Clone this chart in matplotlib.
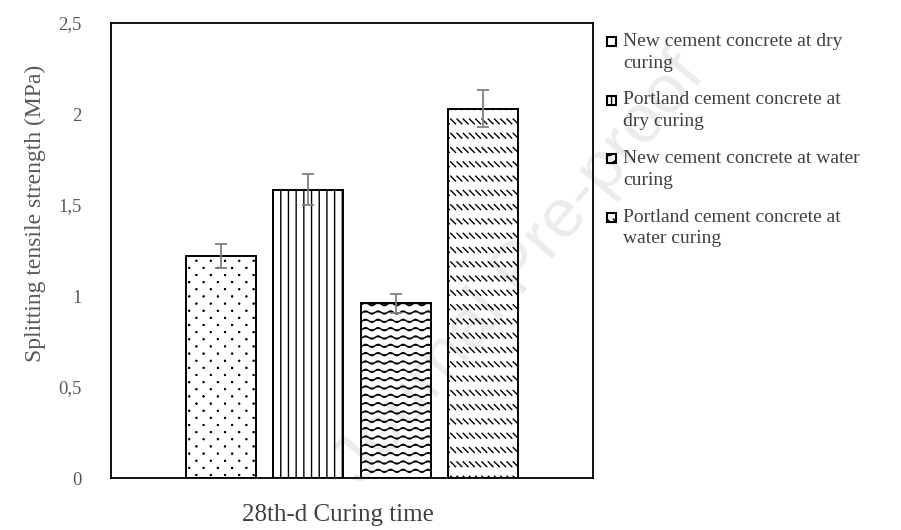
import warnings
import numpy as np
import matplotlib
matplotlib.use('Agg')
import matplotlib.pyplot as plt
import matplotlib.hatch as mhatch
from matplotlib.path import Path
from matplotlib.patches import Rectangle

warnings.filterwarnings('ignore')
plt.rcParams['font.family'] = ['Liberation Serif', 'DejaVu Serif']
plt.rcParams['hatch.linewidth'] = 1.0
plt.rcParams['hatch.color'] = 'black'

# splitting tensile strength at 28 days (MPa) with standard deviation
labels = ['New cement concrete at dry\ncuring',
          'Portland cement concrete at\ndry curing',
          'New cement concrete at water\ncuring',
          'Portland cement concrete at\nwater curing']
strength = [1.22, 1.585, 0.96, 2.03]
std_dev = [0.066, 0.083, 0.052, 0.104]
yticks = [0, 0.5, 1, 1.5, 2, 2.5]
ytick_labels = ['0', '0,5', '1', '1,5', '2', '2,5']


# extra fill patterns (unit cell = 1 inch)
class _SegHatch(mhatch.HatchPatternBase):
    char = None

    def __init__(self, hatch, density):
        self.segs = self.segments() if (hatch and self.char in hatch) else []
        self.num_vertices = sum(len(s) for s in self.segs)

    def set_vertices_and_codes(self, vertices, codes):
        i = 0
        for s in self.segs:
            n = len(s)
            vertices[i:i + n] = s
            codes[i] = Path.MOVETO
            codes[i + 1:i + n] = Path.LINETO
            i += n


class DotHatch(_SegHatch):
    char = ':'

    def segments(self):
        segs = []
        rows, cols, d = 14, 7, 0.004
        for r in range(rows):
            y = (r + 0.5) / rows
            shift = 0.5 if r % 2 else 0.0
            for c in range(cols):
                x = (c + 0.25 + shift) / cols
                segs.append(np.array([[x - d, y], [x + d, y]]))
                segs.append(np.array([[x, y - d], [x, y + d]]))
        return segs


class VLineHatch(_SegHatch):
    char = 'v'

    def segments(self):
        n = 13
        return [np.array([[(k + 0.5) / n, 0.0], [(k + 0.5) / n, 1.0]]) for k in range(n)]


class WaveHatch(_SegHatch):
    char = '~'

    def segments(self):
        rows, periods = 12, 8
        xs = np.linspace(0, 1, periods * 12 + 1)
        segs = []
        for r in range(rows):
            y0 = (r + 0.5) / rows
            segs.append(np.column_stack([xs, y0 + 0.015 * np.sin(2 * np.pi * periods * xs)]))
        return segs


class DashHatch(_SegHatch):
    char = 's'

    def segments(self):
        rows, cols, h = 7, 16, 0.024
        segs = []
        for r in range(rows):
            y0 = (r + 0.5) / rows
            for c in range(cols):
                x0 = (c + 0.5) / cols
                segs.append(np.array([[x0 - h, y0 + h], [x0 + h, y0 - h]]))
        return segs


mhatch._hatch_types.extend([DotHatch, VLineHatch, WaveHatch, DashHatch])
hatches = [':', 'v', '~', 's']

fig = plt.figure(figsize=(9.01, 5.30), dpi=100)
ax = fig.add_axes([0.1232, 0.0981, 0.5350, 0.8585])

width = 0.145
step = 0.181
xpos = [(i - 1.5) * step for i in range(len(strength))]
for x, v, h in zip(xpos, strength, hatches):
    ax.bar(x, v, width=width, facecolor='white', edgecolor='black',
           linewidth=1.4, hatch=h, zorder=2)
ax.errorbar(xpos, strength, yerr=std_dev, fmt='none', ecolor='#808080',
            elinewidth=1.3, capsize=4.6, capthick=1.3, zorder=3)

ax.set_xlim(-0.5, 0.5)
ax.set_ylim(0, 2.5)
ax.set_xticks([])
ax.set_yticks(yticks)
ax.set_yticklabels(ytick_labels)
ax.tick_params(axis='y', length=0, pad=21, labelsize=13.5, labelcolor='#595959')
for sp in ax.spines.values():
    sp.set_linewidth(1.3)
    sp.set_color('black')

ax.set_ylabel('Splitting tensile strength (MPa)', fontsize=17, color='#595959')
ax.yaxis.set_label_coords(-0.135, 0.582)
ax.set_xlabel('28th-d Curing time', fontsize=18, color='#404040')
ax.xaxis.set_label_coords(0.471, -0.081)
ax.xaxis.label.set_va('center')

# legend drawn beside the plot box
W, H = 901, 530
for i, (lab, h) in enumerate(zip(labels, hatches)):
    ytop = 33 + i * 58.5
    fig.add_artist(Rectangle((607 / W, 1 - (ytop + 13) / H), 9 / W, 9 / H,
                             transform=fig.transFigure, facecolor='white',
                             edgecolor='black', linewidth=1.5, hatch=h))
    fig.text(623 / W, 1 - ytop / H, lab, fontsize=14, color='#404040',
             va='top', ha='left', linespacing=1.38)

fig.text(520 / W, 1 - 270 / H, 'Journal Pre-proof', fontsize=50,
         family=['Liberation Sans', 'DejaVu Sans'], color='black', alpha=0.08,
         rotation=50, ha='center', va='center', zorder=10)

fig.savefig('out.png', dpi=100)
